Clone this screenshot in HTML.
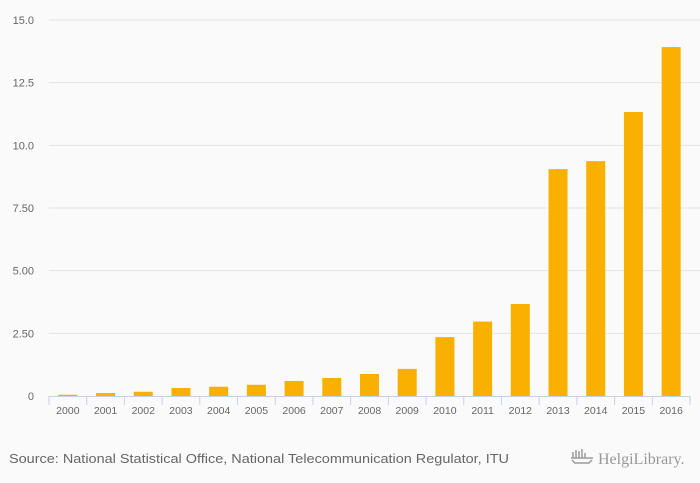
<!DOCTYPE html>
<html><head><meta charset="utf-8"><style>
html,body{margin:0;padding:0;background:#fafafa;}
svg{display:block;font-family:"Liberation Sans",sans-serif;}
</style></head><body>
<svg id="chart" width="700" height="483">
<rect width="700" height="483" fill="#fafafa"/>
<g id="grid"></g><g id="bars"></g><g id="axis"></g>
<text x="9" y="463" font-size="13" fill="#666" textLength="500" lengthAdjust="spacingAndGlyphs">Source: National Statistical Office, National Telecommunication Regulator, ITU</text>
<g>
<text x="598" y="464" font-size="16" fill="#999" font-family="Liberation Serif, serif">HelgiLibrary.</text>
<path d="M571 458h22M573 452v6M576 450v8M579 451v7M582 449v9M585 453v5M572 460l3 3h14l3-3" stroke="#999" stroke-width="1.5" fill="none"/>
</g>
</svg>
<script>
const categories=["2000","2001","2002","2003","2004","2005","2006","2007","2008","2009","2010","2011","2012","2013","2014","2015","2016"];
const values=[0.05,0.12,0.17,0.32,0.37,0.45,0.6,0.72,0.88,1.08,2.35,2.97,3.67,9.05,9.37,11.33,13.92];
const ticks=[0,2.5,5,7.5,10,12.5,15];
const tickLabels=["0","2.50","5.00","7.50","10.0","12.5","15.0"];
const NS="http://www.w3.org/2000/svg";
const x0=49,x1=690,yBase=396,yTop=20,yMax=15;
const step=(x1-x0)/categories.length;
function y(v){return yBase-(v/yMax)*(yBase-yTop);}
function xc(i){return x0+step*(i+0.5);}
function mk(tag,attrs,parent){const e=document.createElementNS(NS,tag);for(const k in attrs)e.setAttribute(k,attrs[k]);parent.appendChild(e);return e;}
const grid=document.getElementById('grid'),bars=document.getElementById('bars'),axis=document.getElementById('axis');
ticks.forEach((t,i)=>{
  if(t>0){const l=mk('line',{x1:x0,x2:x1+10,y1:y(t),y2:y(t),stroke:'#e4e4e4','stroke-width':1},grid);
  
  }
  const tx=mk('text',{x:34,y:y(t)+4,'text-anchor':'end','font-size':11,fill:'#666'},grid);
  tx.textContent=tickLabels[i];
  
  
});
values.forEach((v,i)=>{
  const r=mk('rect',{x:xc(i)-9.5,y:y(v),width:19,height:yBase-y(v),fill:'#f9b000'},bars);
  
  
  const tx=mk('text',{x:xc(i),y:414,'text-anchor':'middle','font-size':10.5,fill:'#666'},axis);
  tx.textContent=categories[i];
  
  
});
const al=mk('line',{x1:x0,x2:x1,y1:yBase+0.5,y2:yBase+0.5,stroke:'#c8d0e8','stroke-width':1},axis);


for(let i=0;i<=categories.length;i++){
  const tk=mk('line',{x1:x0+step*i,x2:x0+step*i,y1:yBase,y2:yBase+9,stroke:'#c8d0e8','stroke-width':1},axis);
  
  
}
</script>
</body></html>
